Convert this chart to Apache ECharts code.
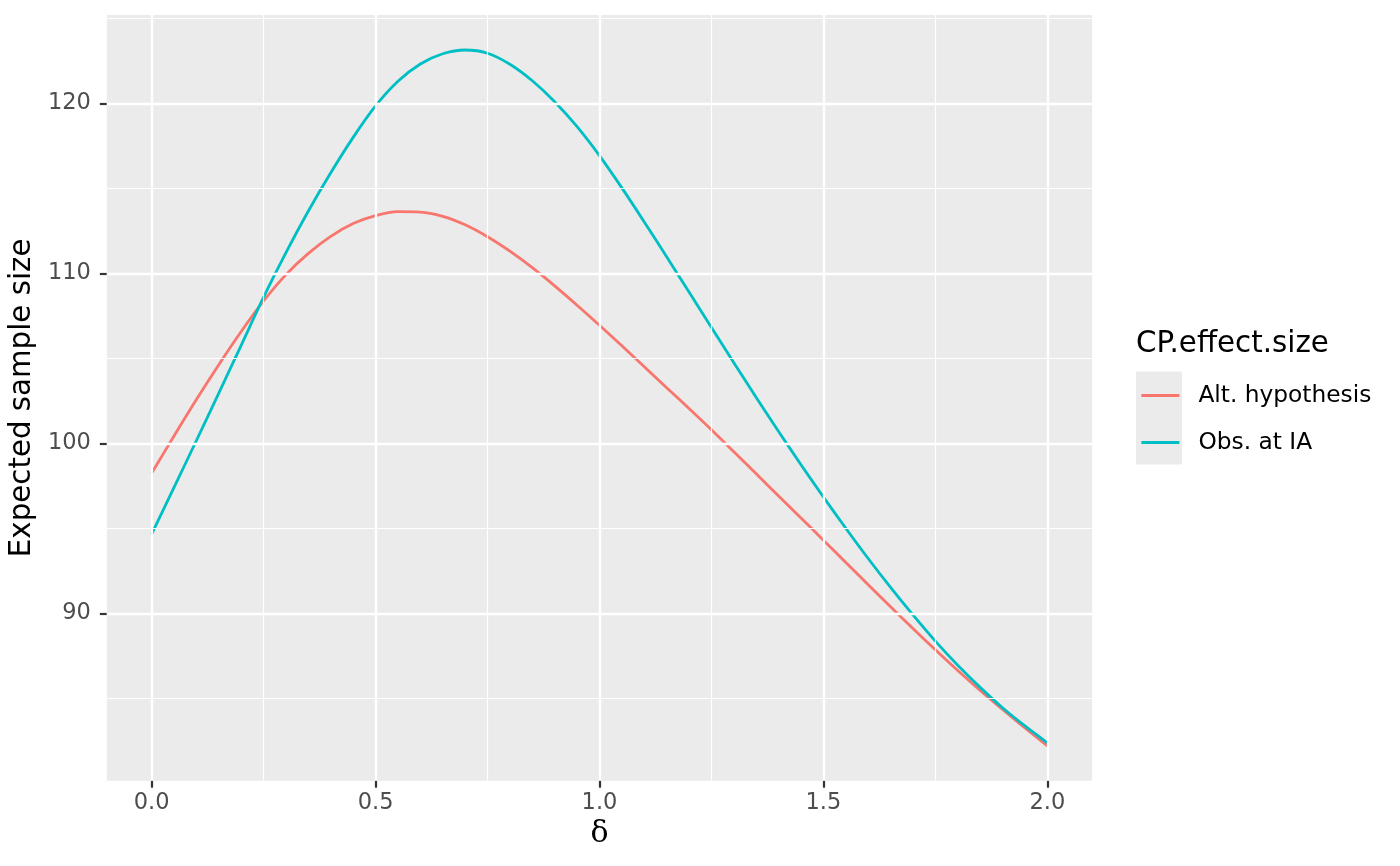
<!DOCTYPE html>
<html>
<head>
<meta charset="utf-8">
<script src="https://cdn.jsdelivr.net/npm/echarts@6/dist/echarts.min.js"></script>
<style>
html,body{margin:0;padding:0;background:#fff;}
#chart{width:1400px;height:866px;}
</style>
</head>
<body>
<div id="chart"></div>
<script>
const delta = [0,0.05,0.1,0.15,0.2,0.25,0.3,0.35,0.4,0.45,0.5,0.55,0.6,0.65,0.7,0.75,0.8,0.85,0.9,0.95,1.0,1.05,1.1,1.15,1.2,1.25,1.3,1.35,1.4,1.45,1.5,1.55,1.6,1.65,1.7,1.75,1.8,1.85,1.9,1.95,2.0];
const altHypothesis = [98.24,100.44,102.58,104.63,106.58,108.38,109.93,111.18,112.18,112.93,113.40,113.63,113.61,113.36,112.86,112.16,111.31,110.34,109.27,108.13,106.95,105.74,104.51,103.28,102.05,100.8,99.51,98.21,96.91,95.61,94.31,93.0,91.69,90.39,89.11,87.86,86.64,85.47,84.35,83.26,82.21];
const obsAtIA = [94.67,97.41,100.17,102.96,105.77,108.6,111.22,113.67,115.92,118.0,119.85,121.3,122.32,122.92,123.14,122.95,122.3,121.33,120.1,118.63,116.93,115.03,113.03,110.98,108.9,106.82,104.75,102.7,100.7,98.75,96.85,95.01,93.23,91.53,89.91,88.37,86.95,85.65,84.45,83.38,82.39];
const seriesNames = ['Alt. hypothesis','Obs. at IA'];
const xMajor = [0,0.5,1,1.5,2];
const xMinor = [0.25,0.75,1.25,1.75];
const yMajor = [90,100,110,120];
const yMinor = [85,95,105,115,125];
const xTitle = 'δ';
const yTitle = 'Expected sample size';
const legendTitle = 'CP.effect.size';

const colors = ['#F8766D','#00BFC4'];
const pair = (xs, ys) => xs.map((x,i)=>[x, ys[i]]);

const gridLines = []
  .concat(xMinor.map(v=>({xAxis:v, lineStyle:{width:1.2}})))
  .concat(yMinor.map(v=>({yAxis:v, lineStyle:{width:1.2}})))
  .concat(xMajor.map(v=>({xAxis:v, lineStyle:{width:2.3}})))
  .concat(yMajor.map(v=>({yAxis:v, lineStyle:{width:2.3}})));

const chart = echarts.init(document.getElementById('chart'), null, {renderer:'canvas'});
chart.setOption({
  animation:false,
  backgroundColor:'#ffffff',
  textStyle:{fontFamily:'DejaVu Sans'},
  title:{
    text:legendTitle, left:1136, top:330, padding:0,
    textStyle:{fontSize:29.3, fontWeight:'normal', color:'#000000', fontFamily:'DejaVu Sans'}
  },
  graphic:[{
    type:'rect', left:1136, top:371.5, z:-1,
    shape:{width:46, height:93}, style:{fill:'#EBEBEB'}
  }],
  legend:{
    orient:'vertical', left:1140, top:384, padding:0, itemWidth:38, itemHeight:22, itemGap:24,
    data:seriesNames, selectedMode:false,
    itemStyle:{opacity:0},
    lineStyle:{width:2.8},
    textStyle:{fontSize:23.3, color:'#000000', lineHeight:22, padding:[0,0,0,14], fontFamily:'DejaVu Sans'}
  },
  grid:{
    left:106.5, top:15, width:985.6, height:765.7,
    show:true, backgroundColor:'#EBEBEB', borderWidth:0
  },
  xAxis:{
    type:'value', min:-0.1, max:2.1,
    name:xTitle, nameLocation:'middle', nameGap:39,
    nameTextStyle:{fontSize:30, color:'#000000', fontFamily:'DejaVu Serif'},
    axisLine:{show:false, onZero:false},
    axisTick:{show:true, length:7, customValues:xMajor, lineStyle:{color:'#333333', width:2.2}},
    axisLabel:{show:true, customValues:xMajor, margin:11, fontSize:22.5, color:'#4D4D4D',
      formatter:(v)=>Number(v).toFixed(1)},
    splitLine:{show:false}
  },
  yAxis:{
    type:'value', min:80.16, max:125.2,
    name:yTitle, nameLocation:'middle', nameGap:61,
    nameTextStyle:{fontSize:29.3, color:'#000000', fontFamily:'DejaVu Sans'},
    axisLine:{show:false, onZero:false},
    axisTick:{show:true, length:7, customValues:yMajor, lineStyle:{color:'#333333', width:2.2}},
    axisLabel:{show:true, customValues:yMajor, margin:16, fontSize:22.5, color:'#4D4D4D',
      formatter:(v)=>String(Math.round(v))},
    splitLine:{show:false}
  },
  series:[
    {
      name:'grid', type:'line', data:[], z:1, silent:true,
      markLine:{silent:true, symbol:['none','none'], label:{show:false}, animation:false,
        lineStyle:{color:'#FFFFFF', type:'solid'}, emphasis:{disabled:true},
        data:gridLines}
    },
    {
      name:seriesNames[0], type:'line', data:pair(delta, altHypothesis), z:3,
      symbol:'none', smooth:0.3, color:colors[0], lineStyle:{width:2.8, color:colors[0], join:'round'}
    },
    {
      name:seriesNames[1], type:'line', data:pair(delta, obsAtIA), z:4,
      symbol:'none', smooth:0.3, color:colors[1], lineStyle:{width:2.8, color:colors[1], join:'round'}
    }
  ]
});
</script>
</body>
</html>
